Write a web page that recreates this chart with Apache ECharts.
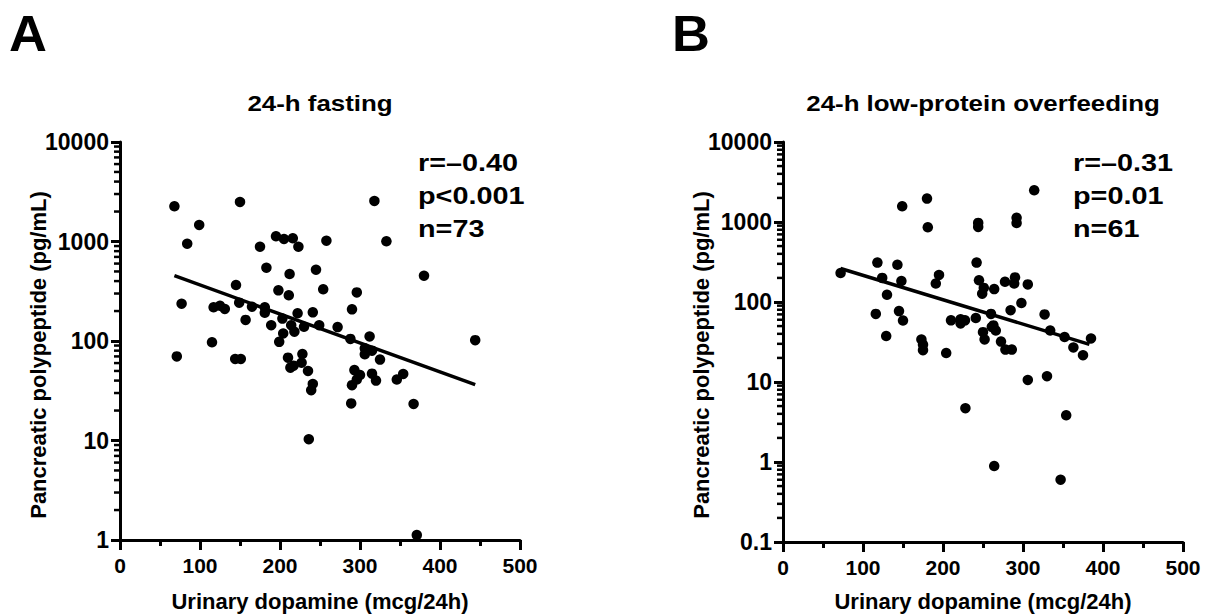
<!DOCTYPE html>
<html><head><meta charset="utf-8">
<script src="https://cdn.jsdelivr.net/npm/echarts@6/dist/echarts.min.js"></script>
<style>html,body{margin:0;padding:0;background:#fff}#c{width:1210px;height:614px}</style>
</head><body><div id="c"></div>
<script>
// ---------- data ----------
const xTickLabels = [0, 100, 200, 300, 400, 500];
const yTickLabelsA = [1, 10, 100, 1000, 10000];
const yTickLabelsB = [0.1, 1, 10, 100, 1000, 10000];

// Panel A: 24-h fasting (n=73)
const fastingDopamine = [68,150,99,84,175,195,205,216,223,258,318,333,183,212,245,145,198,211,254,296,290,380,77,117,125,131,149,165,181,181,157,189,203,222,214,241,230,249,272,204,218,199,115,71,144,151,210,228,213,217,227,235,241,239,288,312,306,315,306,325,293,300,296,290,315,320,346,354,289,367,236,371,444];
const fastingPP = [2260,2495,1465,950,887,1128,1060,1077,887,1019,2553,1005,545,471,521,365,323,288,331,308,208,453,237,218,226,210,243,221,218,192,163,144,168,190,144,194,139,144,138,119,124,98,97,70,66,66,68,74,54,56.5,60.5,50,37,32,105,111,84.5,80,73.5,65,51,45.5,41,36,47,40,41,46.6,23.6,23.3,10.3,1.12,102];
const fitLineA = [[68, 453], [444, 36.5]];

// Panel B: 24-h low-protein overfeeding (n=61)
const overfeedDopamine = [72,118,143,124,148,130,116,145,150,129,149,180,181,195,191,173,175,175,204,210,222,227.5,222,241,242,245,251,249,264,277.5,290,289,306,298,284.5,260,263,266,261,250,252,272.5,278,286,306,228,314,244,244,292,292,327,334,352,385,363,375,330,354,264,347];
const overfeedPP = [230,311,292,200,183,123,71,77,58.6,37.5,1570,1961,859,218,170,34,29.3,25,23,59,61,59,54,63,311,187,150,127,145,179,203,170,166,97,79,71,51,44,48.7,42,34,32,25.4,25.4,10.6,4.7,2490,975,866,1130,970,70,44,36.5,35,27,21.6,11.8,3.84,0.89,0.6];
const fitLineB = [[72, 262], [383, 29.5]];

const statsA = ['r=\u20130.40', 'p<0.001', 'n=73'];
const statsB = ['r=\u20130.31', 'p=0.01', 'n=61'];
const titleA = '24-h fasting';
const titleB = '24-h low-protein overfeeding';
const xName = 'Urinary dopamine (mcg/24h)';
const yName = 'Pancreatic polypeptide (pg/mL)';

// ---------- helpers ----------
const FONT = '"Liberation Sans", Arial, Helvetica, sans-serif';
function zip(xs, ys) { return xs.map((x, i) => [x, ys[i]]); }
function minorLogTicks(decades) {
  const out = [];
  decades.forEach(d => { for (let m = 2; m <= 9; m++) out.push(+(m * d).toPrecision(6)); });
  return out;
}
const minorA = minorLogTicks([1, 10, 100, 1000]);
const minorB = minorLogTicks([0.1, 1, 10, 100, 1000]);

function xAxisCfg(gridIndex) {
  return {
    type: 'value', gridIndex, min: xTickLabels[0], max: xTickLabels[xTickLabels.length - 1], interval: 100,
    axisLine: { show: true, onZero: false, lineStyle: { color: '#000', width: 3 } },
    axisTick: { show: true, length: 10, lineStyle: { color: '#000', width: 3 } },
    minorTick: { show: true, splitNumber: 2, length: 6, lineStyle: { color: '#000', width: 3 } },
    splitLine: { show: false }, minorSplitLine: { show: false },
    axisLabel: { fontFamily: FONT, fontSize: 21, fontWeight: 'bold', color: '#000', margin: 15 }
  };
}
function yAxisCfg(gridIndex, labels) {
  return {
    type: 'log', logBase: 10, gridIndex, min: labels[0], max: labels[labels.length - 1],
    axisLine: { show: true, onZero: false, lineStyle: { color: '#000', width: 3 } },
    axisTick: { show: true, length: 9, lineStyle: { color: '#000', width: 3 } },
    splitLine: { show: false },
    axisLabel: { fontFamily: FONT, fontSize: 23, fontWeight: 'bold', color: '#000', margin: 11,
      formatter: v => String(+(+v).toPrecision(6)) }
  };
}
function minorTickSeries(idx, vals) {
  return {
    type: 'custom', xAxisIndex: idx, yAxisIndex: idx, clip: false, silent: true, z: 5,
    data: vals.map(v => [0, v]),
    renderItem: (params, api) => {
      const p = api.coord([0, api.value(1)]);
      return { type: 'line', shape: { x1: p[0] - 6, y1: p[1], x2: p[0], y2: p[1] },
        style: { stroke: '#000', lineWidth: 2.5 } };
    }
  };
}
function scatterSeries(idx, xs, ys) {
  return { type: 'scatter', xAxisIndex: idx, yAxisIndex: idx, data: zip(xs, ys),
    symbol: 'circle', symbolSize: 10.5, itemStyle: { color: '#000', opacity: 1 }, z: 3, silent: true };
}
function fitSeries(idx, pts) {
  return { type: 'line', xAxisIndex: idx, yAxisIndex: idx, data: pts, symbol: 'none',
    lineStyle: { color: '#000', width: 3.5, opacity: 1 }, z: 4, silent: true, animation: false };
}
function txt(x, y, text, size, opts) {
  opts = opts || {};
  return { type: 'text', x, y, scaleX: opts.sx || 1, scaleY: opts.sy || 1,
    rotation: opts.rot || 0, silent: true,
    style: { text, fill: '#000', font: 'bold ' + size + 'px ' + FONT,
      textAlign: opts.align || 'left', textVerticalAlign: 'middle' } };
}

const chart = echarts.init(document.getElementById('c'), null, { renderer: 'svg' });
chart.setOption({
  animation: false,
  backgroundColor: '#fff',
  grid: [
    { left: 120, top: 142, width: 400, height: 398 },
    { left: 783, top: 142, width: 400, height: 400 }
  ],
  xAxis: [xAxisCfg(0), xAxisCfg(1)],
  yAxis: [yAxisCfg(0, yTickLabelsA), yAxisCfg(1, yTickLabelsB)],
  series: [
    scatterSeries(0, fastingDopamine, fastingPP),
    fitSeries(0, fitLineA),
    minorTickSeries(0, minorA),
    scatterSeries(1, overfeedDopamine, overfeedPP),
    fitSeries(1, fitLineB),
    minorTickSeries(1, minorB)
  ],
  graphic: [
    txt(9, 34, 'A', 50, { sx: 1.05 }),
    txt(672, 34, 'B', 50, { sx: 1.05 }),
    txt(320, 103, titleA, 22.5, { align: 'center', sx: 1.15 }),
    txt(983, 103, titleB, 22.5, { align: 'center', sx: 1.15 }),
    txt(418, 163, statsA[0], 24, { sx: 1.2 }),
    txt(418, 196, statsA[1], 24, { sx: 1.2 }),
    txt(418, 229, statsA[2], 24, { sx: 1.2 }),
    txt(1073, 163, statsB[0], 24, { sx: 1.2 }),
    txt(1073, 196, statsB[1], 24, { sx: 1.2 }),
    txt(1073, 229, statsB[2], 24, { sx: 1.2 }),
    txt(320, 601, xName, 22, { align: 'center' }),
    txt(983, 601, xName, 22, { align: 'center' }),
    txt(38, 355, yName, 22, { align: 'center', rot: Math.PI / 2 }),
    txt(701, 355, yName, 22, { align: 'center', rot: Math.PI / 2 })
  ]
});
</script>
</body></html>
